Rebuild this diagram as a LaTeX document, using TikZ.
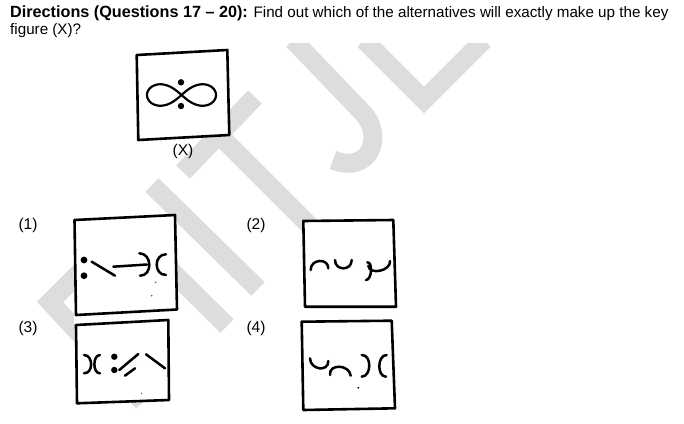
\documentclass[tikz,border=0pt]{standalone}
\usepackage{fontspec}
\setmainfont{Liberation Sans}
\definecolor{wmgray}{RGB}{221,221,221}
\definecolor{specks}{RGB}{110,60,60}
\begin{document}
\begin{tikzpicture}[x=1pt,y=-1pt,
  wm/.style={draw=wmgray, line width=19pt},
  frame/.style={draw=black, line width=2.6pt, fill=white, line join=round},
  glyph/.style={draw=black, line width=2.5pt, line cap=round},
  lbl/.style={font=\fontsize{15.5}{18}\selectfont, inner sep=0pt},
]
\useasboundingbox (0,0) rectangle (684,423);
% watermark
\begin{scope}
  \clip (0,43) rectangle (684,423);
  \draw[wm, line join=miter] (100,252) -- (50,302) -- (143,402);
  \draw[wm] (128,228) -- (227,326);
  \draw[wm] (152,185) -- (258,289);
  \draw[wm] (183,172) -- (255,97);
  \draw[wm] (219,135) -- (318,234);
  \draw[wm] (293,40) -- (362,112) .. controls (385,135) and (370,175) .. (333,160);
  \draw[wm, line join=miter] (364,40) -- (424,100) -- (484,40);
\end{scope}
% white image areas
\fill[white] (74,311) rectangle (178,324);
% frames
\draw[frame] (136.7,55) -- (227.3,50) -- (229.3,135) -- (138.3,140) -- cycle;
\draw[frame] (74.5,220) -- (175,215) -- (177,309.5) -- (76,315) -- cycle;
\draw[frame] (303.3,221) -- (393.3,220) -- (396,306.7) -- (305,306.7) -- cycle;
\draw[frame] (76,325) -- (168.3,320) -- (169,400) -- (77,403.3) -- cycle;
\draw[frame] (301.7,321.7) -- (391.7,320.7) -- (395,408.3) -- (303.3,410) -- cycle;
% key figure X
\draw[glyph, line width=2.2pt, line join=round] plot[domain=0:360, samples=120, smooth cycle]
  ({181.5+34.5*cos(\x)/(1+sin(\x)^2)}, {95+0.88*34.5*sin(\x)*cos(\x)/(1+sin(\x)^2)});
\fill (181,82.3) circle[radius=3.2];
\fill (181,106) circle[radius=3.2];
% figure 1
\fill (84,260) circle[radius=3.4];
\fill (84,275.7) circle[radius=3.4];
\draw[glyph] (91.7,261.7) -- (115,275.7);
\draw[glyph] (113.3,266.7) -- (147,264.5);
\draw[glyph] (139.3,253.3) .. controls (152.2,253.3) and (152.9,275.7) .. (140,275.7);
\draw[glyph] (166,254.3) .. controls (153.6,254.3) and (153.6,275) .. (166,275);
\fill[specks] (155.7,282.3) circle[radius=0.8];
\fill[specks] (151.7,295.7) circle[radius=0.8];
% figure 2
\draw[glyph] (310.7,270) .. controls (310.4,259.1) and (328,257.4) .. (328.3,268.3);
\draw[glyph] (335,260) .. controls (335,271.1) and (351.7,271.1) .. (351.7,260);
\draw[glyph] (367.3,262.3) .. controls (373.1,262.1) and (371.8,279.8) .. (366,280);
\draw[glyph] (368.3,265.7) .. controls (369.4,275.5) and (391.1,270.8) .. (390,261);
% figure 3
\draw[glyph] (84,355) .. controls (93.5,355.2) and (93.5,373.5) .. (84,373.3);
\draw[glyph] (100,355) .. controls (92.5,355.2) and (92.5,373.5) .. (100,373.3);
\fill (114.3,356.7) circle[radius=3.2];
\fill (114.3,370) circle[radius=3.2];
\draw[glyph] (119.3,370) -- (138.3,354);
\draw[glyph] (125,375.7) -- (135,368.3);
\draw[glyph] (146,354.3) -- (165,368.3);
\fill[specks] (141.7,393.3) circle[radius=0.7];
% figure 4
\draw[glyph] (310,358.3) .. controls (310.2,369.8) and (328.5,372.5) .. (328.3,361);
\draw[glyph] (330,375) .. controls (328.6,363.5) and (349.3,364.2) .. (350.7,375.7);
\draw[glyph] (361.7,355) .. controls (371.8,354.5) and (371.8,376.2) .. (361.7,376.7);
\draw[glyph] (386.7,355) .. controls (377.3,354.8) and (376.6,376.5) .. (386,376.7);
\fill (358.3,387.7) circle[radius=1];
% texts
\node[lbl, anchor=base west] (hdr1) at (10,17.5) {{\fontsize{16.2}{18}\selectfont\bfseries Directions (Questions 17 – 20):} {\fontsize{15.2}{18}\selectfont Find out which of the alternatives will exactly make up the key}};
\node[lbl, anchor=base west] (hdr2) at (10,34) {\fontsize{15.2}{18}\selectfont figure (X)?};
\node[lbl] (lx) at (183,151) {(X)};
\node[lbl] (l1) at (28,225) {(1)};
\node[lbl] (l2) at (256,225) {(2)};
\node[lbl] (l3) at (28,328) {(3)};
\node[lbl] (l4) at (256,328) {(4)};
\end{tikzpicture}
\end{document}
